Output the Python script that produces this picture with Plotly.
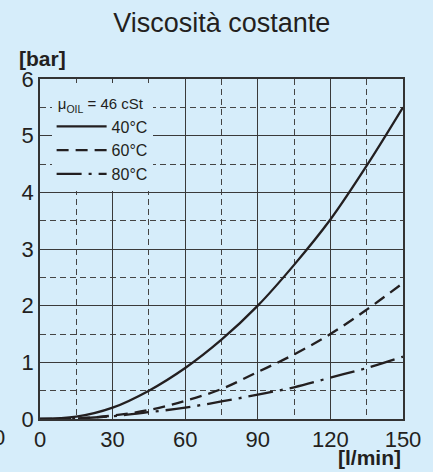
import plotly.graph_objects as go

# ---- data ----
flow = [0, 15, 30, 45, 60, 75, 90, 105, 120, 135, 150]          # l/min
p_40 = [0, 0.04, 0.2, 0.5, 0.9, 1.4, 2.0, 2.72, 3.52, 4.47, 5.5]  # bar
p_60 = [0, 0.01, 0.06, 0.16, 0.32, 0.53, 0.83, 1.14, 1.5, 1.93, 2.4]
p_80 = [0, 0.01, 0.05, 0.12, 0.2, 0.31, 0.43, 0.56, 0.73, 0.9, 1.1]
series_names = ["40°C", "60°C", "80°C"]
x_ticks = [0, 30, 60, 90, 120, 150]
y_ticks = [0, 1, 2, 3, 4, 5, 6]

BG = "#D6EDFA"
INK = "#231F20"
FONT = "Liberation Sans, Arial, sans-serif"

fig = go.Figure()
for name, vals, dash in zip(series_names, [p_40, p_60, p_80],
                            ["solid", "12px,7px", "25px,7px,3px,7px"]):
    fig.add_trace(go.Scatter(
        x=flow, y=vals, mode="lines", name=name,
        line=dict(color=INK, width=2.3, dash=dash, shape="spline", smoothing=1.0),
    ))

axis_common = dict(
    showline=True, mirror=True, linecolor="#333333", linewidth=1.5,
    showgrid=True, gridcolor="#3a3a3a", gridwidth=1,
    zeroline=False, ticks="",
    tickfont=dict(size=22, color=INK, family=FONT),
)
fig.update_xaxes(range=[0, 150], tickvals=x_ticks,
                 minor=dict(dtick=15, showgrid=True, griddash="6px,4px",
                            gridcolor="#444444", gridwidth=1),
                 **axis_common)
fig.update_yaxes(range=[0, 6], tickvals=y_ticks,
                 minor=dict(dtick=0.5, showgrid=True, griddash="6px,4px",
                            gridcolor="#444444", gridwidth=1),
                 **axis_common)

fig.update_layout(
    width=433, height=472,
    margin=dict(l=40, r=24, t=79, b=53),
    paper_bgcolor=BG, plot_bgcolor=BG,
    font=dict(family=FONT, color=INK),
    title=dict(text="Viscosità costante", xref="container", x=0.512,
               xanchor="center", y=1 - 23 / 472, yanchor="middle",
               font=dict(size=27, color=INK, family=FONT)),
    legend=dict(
        x=0.032, y=0.987, xanchor="left", yanchor="top",
        bgcolor=BG, borderwidth=0,
        font=dict(size=16, color=INK, family=FONT),
        title=dict(text='<span style="font-size:15px">&nbsp;μ<sub>OIL</sub> = 46 cSt</span>',
                   font=dict(size=20, color=INK, family=FONT)),
        itemwidth=50, tracegroupgap=0,
    ),
    annotations=[
        dict(text="<b>[bar]</b>", xref="paper", yref="paper", x=-0.063, y=1.06,
             xanchor="left", yanchor="middle", showarrow=False,
             font=dict(size=21, color=INK, family=FONT)),
        dict(text="<b>[l/min]</b>", xref="paper", yref="paper", x=0.999, y=-0.113,
             xanchor="right", yanchor="middle", showarrow=False,
             font=dict(size=21, color=INK, family=FONT)),
        dict(text="0", xref="paper", yref="paper", x=-0.091, y=-0.055,
             xanchor="right", yanchor="middle", showarrow=False,
             font=dict(size=22, color=INK, family=FONT)),
    ],
)

fig.write_html("out.html", config={"displayModeBar": False},
               post_script="document.body.style.margin='0';document.body.style.overflow='hidden';")
